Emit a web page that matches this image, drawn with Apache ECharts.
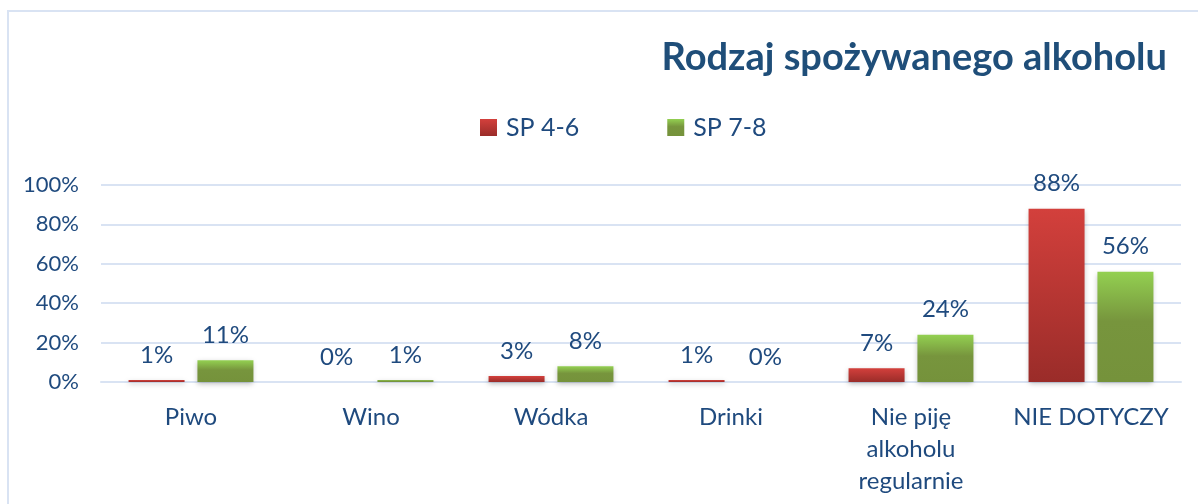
<!DOCTYPE html>
<html><head><meta charset="utf-8">
<script src="https://cdn.jsdelivr.net/npm/echarts@6/dist/echarts.min.js"></script>
<style>html,body{margin:0;padding:0;background:#fff}#c{width:1198px;height:504px}</style>
</head><body><div id="c"></div>
<script>
const categories = ['Piwo', 'Wino', 'Wódka', 'Drinki', 'Nie piję\nalkoholu\nregularnie', 'NIE DOTYCZY'];
const sp46 = [1, 0, 3, 1, 7, 88];
const sp78 = [11, 1, 8, 0, 24, 56];
const seriesNames = ['SP 4-6', 'SP 7-8'];
const titleText = 'Rodzaj spożywanego alkoholu';

const txt = '#1F4A7E';
const font = 'Lato, "Liberation Sans", sans-serif';
const redGrad = new echarts.graphic.LinearGradient(0,0,0,1,[{offset:0,color:'#D3403C'},{offset:1,color:'#9A2C29'}]);
const greenGrad = new echarts.graphic.LinearGradient(0,0,0,1,[{offset:0,color:'#93D051'},{offset:0.45,color:'#77953D'},{offset:1,color:'#75923B'}]);

const chart = echarts.init(document.getElementById('c'));
const labelCfg = {show:true, position:'top', distance:13, color:txt, fontSize:24, fontFamily:font, formatter:'{c}%'};
chart.setOption({
  animation:false,
  title:{text:titleText, right:26, top:34, textStyle:{color:'#1F4E79', fontSize:38, fontWeight:'bold', fontFamily:font}},
  legend:{top:110, left:475, icon:'rect', itemWidth:17, itemHeight:17, itemGap:88, textStyle:{color:txt, fontSize:25, fontFamily:font, padding:[0,0,0,4]}, data:seriesNames},
  graphic:[{type:'rect', shape:{x:8, y:11, width:1250, height:560}, style:{fill:'none', stroke:'#D9E3F3', lineWidth:2}, silent:true}],
  grid:{left:101, right:17, top:185, bottom:122},
  xAxis:{type:'category', data:categories,
    axisLine:{show:true, lineStyle:{color:'#D9E3F3', width:2}}, axisTick:{show:false},
    axisLabel:{color:txt, fontSize:24, fontFamily:font, margin:19, lineHeight:32, interval:0}},
  yAxis:{type:'value', min:0, max:100, interval:20,
    axisLabel:{formatter:'{value}%', color:txt, fontSize:22, fontFamily:font, margin:22},
    splitLine:{lineStyle:{color:'#D9E3F3', width:2}}, axisLine:{show:false}, axisTick:{show:false}},
  series:[
    {name:seriesNames[0], type:'bar', data:sp46, barWidth:56, barGap:'23%',
      itemStyle:{color:redGrad, shadowBlur:5, shadowColor:'rgba(0,0,0,0.25)', shadowOffsetY:2}, label:labelCfg},
    {name:seriesNames[1], type:'bar', data:sp78, barWidth:56,
      itemStyle:{color:greenGrad, shadowBlur:5, shadowColor:'rgba(0,0,0,0.25)', shadowOffsetY:2}, label:labelCfg}
  ]
});
</script></body></html>
